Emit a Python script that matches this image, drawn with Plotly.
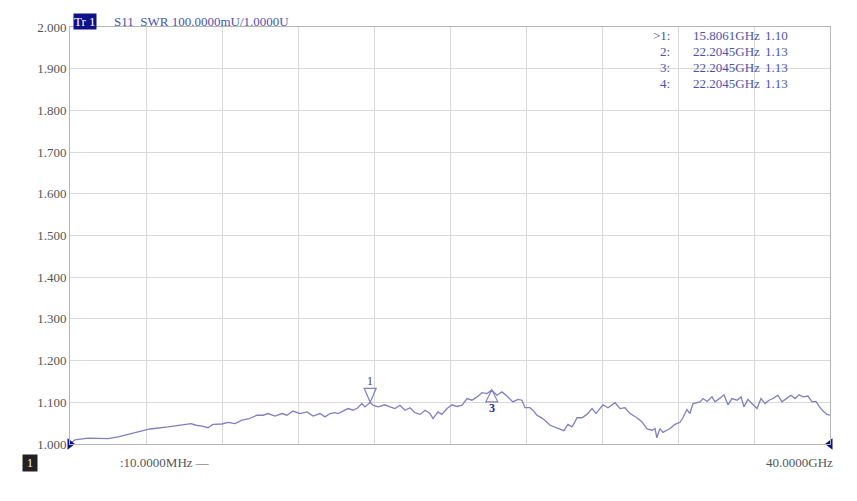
import plotly.graph_objects as go

# ---- data ----
freq_ghz = [0.01, 0.27, 0.96, 2.01, 2.54, 3.43, 4.22, 5.17, 5.85, 6.38, 6.64, 6.96, 7.27, 7.53,
            8.01, 8.32, 8.69, 9.06, 9.38, 9.85, 10.17, 10.43, 10.80, 11.16, 11.43, 11.74, 12.11,
            12.48, 12.80, 13.16, 13.43, 13.69, 13.95, 14.11, 14.37, 14.64, 14.90, 15.16, 15.37,
            15.53, 15.81, 15.95, 16.22, 16.58, 16.85, 17.11, 17.37, 17.64, 17.90, 18.16, 18.43,
            18.69, 18.95, 19.11, 19.37, 19.58, 19.85, 20.11, 20.37, 20.64, 20.90, 21.16, 21.43,
            21.69, 21.95, 22.20, 22.48, 22.74, 23.00, 23.16, 23.32, 23.58, 23.79, 23.95, 24.21,
            24.37, 24.58, 24.74, 25.00, 25.27, 25.53, 25.79, 26.00, 26.21, 26.42, 26.58, 26.69,
            26.95, 27.21, 27.48, 27.69, 28.05, 28.32, 28.69, 28.95, 29.21, 29.48, 29.84, 30.11,
            30.37, 30.63, 30.79, 30.89, 31.05, 31.21, 31.58, 31.84, 32.11, 32.26, 32.47, 32.63,
            32.79, 33.05, 33.16, 33.32, 33.53, 33.79, 33.95, 34.21, 34.42, 34.63, 34.84, 35.11,
            35.32, 35.47, 35.68, 35.89, 36.16, 36.37, 36.58, 36.79, 37.00, 37.26, 37.47, 37.74,
            37.95, 38.16, 38.37, 38.58, 38.84, 39.05, 39.26, 39.42, 39.63, 39.84, 40.00]
swr = [1.000, 1.010, 1.014, 1.013, 1.017, 1.027, 1.036, 1.041, 1.045, 1.049, 1.045, 1.043, 1.039,
       1.047, 1.048, 1.052, 1.049, 1.057, 1.060, 1.069, 1.069, 1.073, 1.067, 1.073, 1.069, 1.079,
       1.073, 1.077, 1.067, 1.073, 1.065, 1.073, 1.075, 1.073, 1.079, 1.085, 1.081, 1.087, 1.097,
       1.089, 1.100, 1.093, 1.089, 1.094, 1.089, 1.085, 1.093, 1.081, 1.087, 1.075, 1.071,
       1.081, 1.073, 1.061, 1.077, 1.071, 1.085, 1.094, 1.090, 1.093, 1.109, 1.105, 1.113,
       1.123, 1.121, 1.129, 1.117, 1.125, 1.115, 1.109, 1.101, 1.107, 1.105, 1.087, 1.087,
       1.081, 1.069, 1.065, 1.057, 1.045, 1.041, 1.037, 1.032, 1.047, 1.041, 1.053, 1.063,
       1.063, 1.071, 1.085, 1.073, 1.094, 1.087, 1.099, 1.085, 1.087, 1.073, 1.063, 1.053,
       1.036, 1.033, 1.037, 1.015, 1.037, 1.028, 1.037, 1.047, 1.052, 1.063, 1.083, 1.073,
       1.097, 1.101, 1.101, 1.109, 1.102, 1.113, 1.101, 1.110, 1.118, 1.094, 1.109, 1.105,
       1.113, 1.089, 1.107, 1.097, 1.085, 1.109, 1.097, 1.105, 1.109, 1.117, 1.101, 1.110,
       1.117, 1.109, 1.118, 1.113, 1.115, 1.101, 1.102, 1.091, 1.079, 1.071, 1.069]

start_ghz, stop_ghz = 0.01, 40.0
y_ticks = [1.0, 1.1, 1.2, 1.3, 1.4, 1.5, 1.6, 1.7, 1.8, 1.9, 2.0]
y_tick_labels = ["1.000", "1.100", "1.200", "1.300", "1.400", "1.500",
                 "1.600", "1.700", "1.800", "1.900", "2.000"]
x_grid = [start_ghz + k * (stop_ghz - start_ghz) / 10 for k in range(11)]

marker_ids = ["1", "2", "3", "4"]
marker_freqs = [15.8061, 22.2045, 22.2045, 22.2045]
marker_vals = [1.10, 1.13, 1.13, 1.13]
marker_freq_txt = ["15.8061GHz", "22.2045GHz", "22.2045GHz", "22.2045GHz"]
marker_val_txt = ["1.10", "1.13", "1.13", "1.13"]

FONT = "Liberation Serif"
BLUE_TXT = "#4a52b0"
TRACE = "#7f7fc6"
NAVY = "#10108a"

fig = go.Figure()
fig.add_trace(go.Scatter(x=freq_ghz, y=swr, mode="lines",
                         line=dict(color=TRACE, width=1.3), hoverinfo="skip"))
# stimulus start/stop triangles
fig.add_trace(go.Scatter(x=[start_ghz], y=[y_ticks[0]], mode="markers", cliponaxis=False,
                         marker=dict(symbol="triangle-right", size=10, color=NAVY)))
fig.add_trace(go.Scatter(x=[stop_ghz], y=[y_ticks[0]], mode="markers", cliponaxis=False,
                         marker=dict(symbol="triangle-left", size=10, color=NAVY)))

shapes = []
annotations = []
# marker 1: downward triangle above point
shapes.append(dict(type="path", xref="x", yref="y", xsizemode="pixel", ysizemode="pixel",
                   xanchor=marker_freqs[0], yanchor=marker_vals[0],
                   path="M-6,14 L6,14 L0,0 Z", line=dict(color=TRACE, width=1.2)))
annotations.append(dict(x=marker_freqs[0], y=marker_vals[0], xref="x", yref="y",
                        text="1", showarrow=False, yshift=21,
                        font=dict(family=FONT, size=12, color="#444")))
# markers 2-4 (overlapping): upward triangle below point
shapes.append(dict(type="path", xref="x", yref="y", xsizemode="pixel", ysizemode="pixel",
                   xanchor=marker_freqs[2], yanchor=marker_vals[2],
                   path="M-6,-12 L6,-12 L0,0 Z", line=dict(color=TRACE, width=1.2)))
annotations.append(dict(x=marker_freqs[2], y=marker_vals[2], xref="x", yref="y",
                        text="<b>3</b>", showarrow=False, yshift=-18,
                        font=dict(family=FONT, size=12, color="#2a2aa0")))

# header
annotations.append(dict(x=0.004, y=1.014, xref="paper", yref="paper", xanchor="left",
                        yanchor="middle", text="Tr 1", showarrow=False, bgcolor=NAVY,
                        borderpad=0, font=dict(family=FONT, size=13, color="white")))
annotations.append(dict(x=0.055, y=1.014, xref="paper", yref="paper", xanchor="left",
                        yanchor="middle", text="S11  SWR 100.0000mU/1.0000U", showarrow=False,
                        font=dict(family=FONT, size=13, color=BLUE_TXT)))
# marker table
row_y = [0.9786, 0.9405, 0.9024, 0.8643]
for i in range(4):
    lab = (">" if i == 0 else "") + marker_ids[i] + ":"
    annotations.append(dict(x=0.792, y=row_y[i], xref="paper", yref="paper", xanchor="right",
                            yanchor="middle", text=lab, showarrow=False,
                            font=dict(family=FONT, size=13, color=BLUE_TXT)))
    annotations.append(dict(x=0.817, y=row_y[i], xref="paper", yref="paper", xanchor="left",
                            yanchor="middle", text=marker_freq_txt[i], showarrow=False,
                            font=dict(family=FONT, size=13, color=BLUE_TXT)))
    annotations.append(dict(x=0.912, y=row_y[i], xref="paper", yref="paper", xanchor="left",
                            yanchor="middle", text=marker_val_txt[i], showarrow=False,
                            font=dict(family=FONT, size=13, color=BLUE_TXT)))
# bottom labels
annotations.append(dict(x=-0.063, y=-0.045, xref="paper", yref="paper", xanchor="left",
                        yanchor="middle", text=" 1 ", showarrow=False, bgcolor="#222",
                        borderpad=1, font=dict(family=FONT, size=12, color="white")))
annotations.append(dict(x=0.063, y=-0.045, xref="paper", yref="paper", xanchor="left",
                        yanchor="middle", text=":10.0000MHz —", showarrow=False,
                        font=dict(family=FONT, size=13, color="#555")))
annotations.append(dict(x=1.007, y=-0.045, xref="paper", yref="paper", xanchor="right",
                        yanchor="middle", text="40.0000GHz", showarrow=False,
                        font=dict(family=FONT, size=13, color="#555")))

fig.update_layout(
    width=849, height=493,
    margin=dict(l=62, r=27, t=16, b=57),
    paper_bgcolor="white", plot_bgcolor="white",
    showlegend=False,
    shapes=shapes, annotations=annotations,
    xaxis=dict(range=[start_ghz, stop_ghz], tickvals=x_grid, showticklabels=False,
               showgrid=True, gridcolor="#d9d9d9", gridwidth=1, zeroline=False,
               showline=True, linecolor="#b5b5b5", linewidth=1, mirror=True, ticks=""),
    yaxis=dict(range=[1.0, 2.0], tickvals=y_ticks, ticktext=y_tick_labels,
               showgrid=True, gridcolor="#d9d9d9", gridwidth=1, zeroline=False,
               showline=True, linecolor="#b5b5b5", linewidth=1, mirror=True, ticks="",
               tickfont=dict(family=FONT, size=13, color="#555")),
)
fig.write_html("out.html")
